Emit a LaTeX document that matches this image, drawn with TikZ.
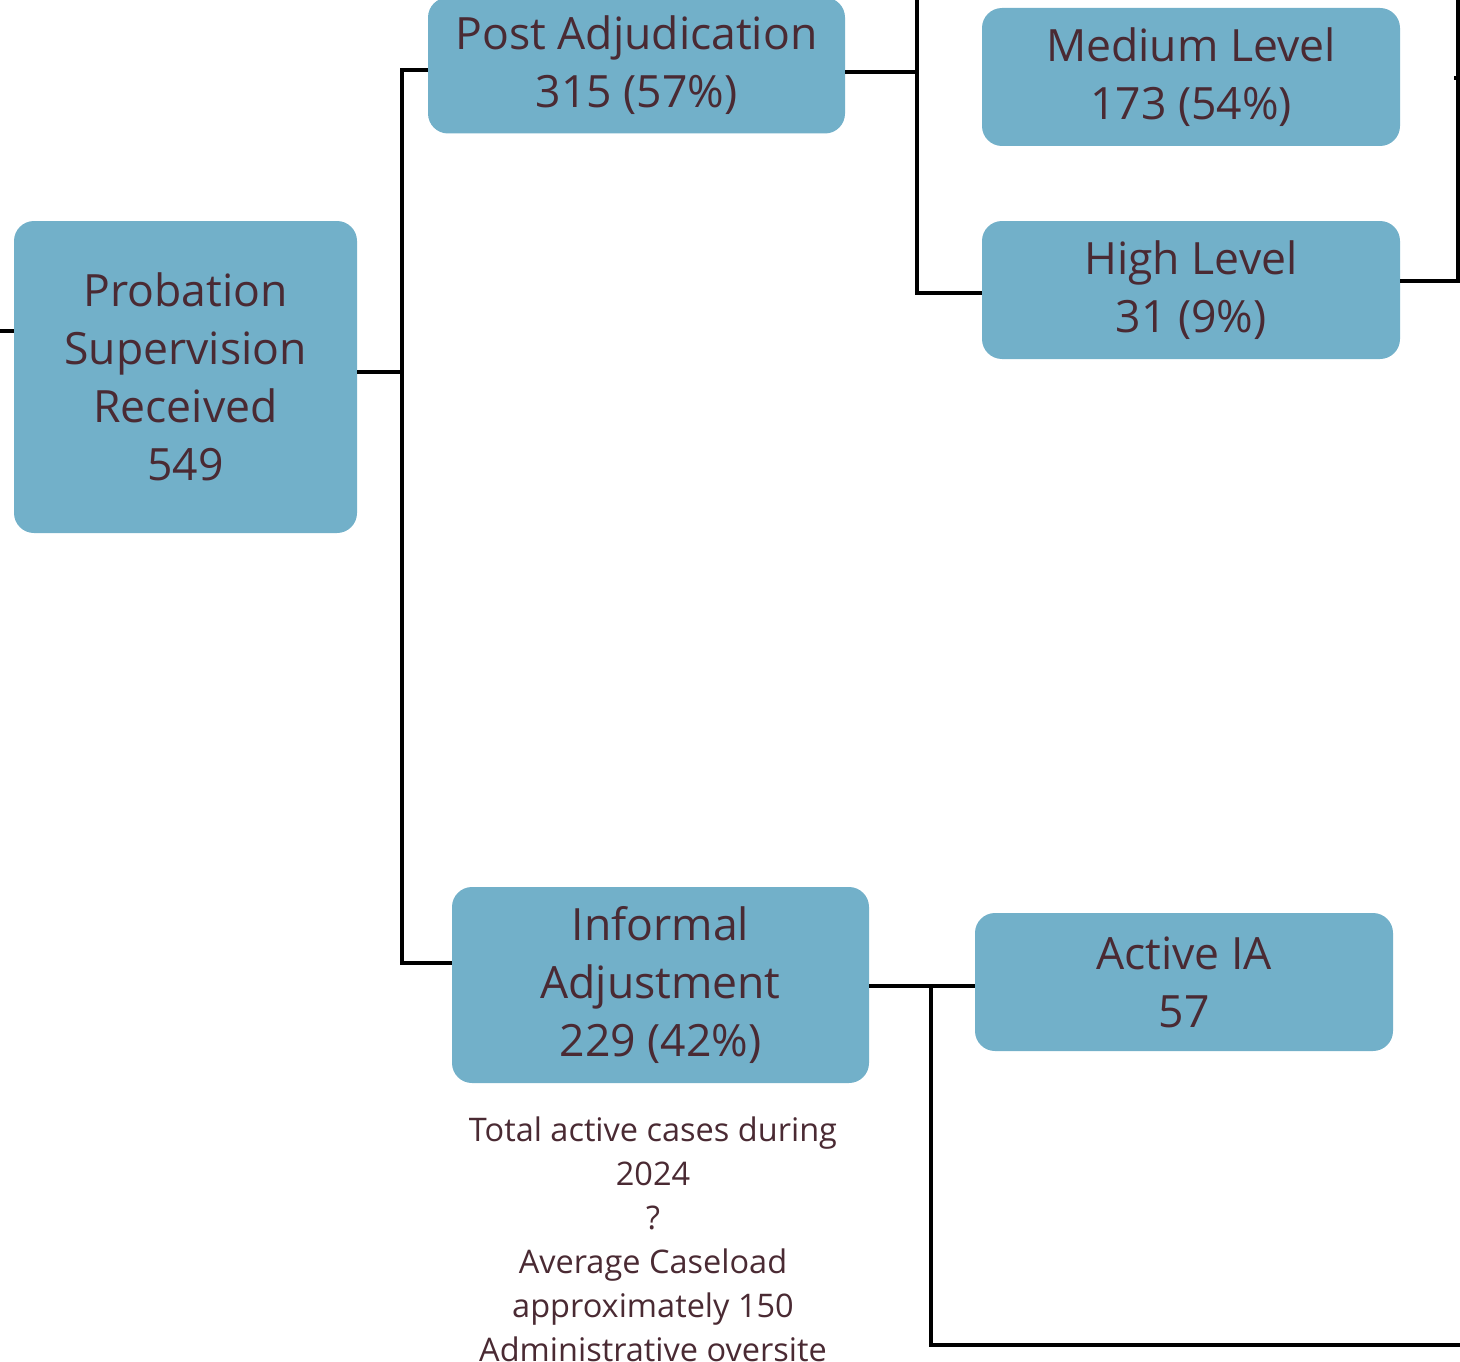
\documentclass[tikz,border=0pt]{standalone}
\usepackage{fontspec}
\setmainfont{Open Sans}
\definecolor{boxblue}{HTML}{72B0C9}
\definecolor{ink}{HTML}{4A2A33}
\begin{document}
\begin{tikzpicture}[x=1pt,y=-1pt,
  box/.style={rounded corners=20pt, fill=boxblue, text=ink, align=center,
    inner sep=0pt, font=\fontsize{44.5}{58}\selectfont},
  link/.style={line width=4pt, black},
  note/.style={text=ink, align=center, inner sep=0pt,
    font=\fontsize{32.5}{44}\selectfont}]
\useasboundingbox (0,0) rectangle (1460,1362);

% boxes
\node (root) [box, minimum width=343pt, minimum height=312pt] at (185.5,377)
  {Probation\\Supervision\\Received\\549};
\node (post) [box, minimum width=417pt, minimum height=136pt] at (636.5,65.5)
  {Post Adjudication\\315 (57\%)};
\node (medium) [box, minimum width=418pt, minimum height=138pt] at (1191,77)
  {Medium Level\\173 (54\%)};
\node (high) [box, minimum width=418pt, minimum height=138pt] at (1191,290)
  {High Level\\31 (9\%)};
\node (informal) [box, minimum width=417pt, minimum height=196pt] at (660.5,985)
  {Informal\\Adjustment\\229 (42\%)};
\node (active) [box, minimum width=418pt, minimum height=138pt] at (1184,982)
  {Active IA\\57};
\node (notes) [note] at (653,1239)
  {Total active cases during\\2024\\?\\Average Caseload\\approximately 150\\Administrative oversite};

% junction points and free ends
\coordinate (lin) at (0,331);
\coordinate (rj) at (402,372);
\coordinate (pj) at (917,0);
\coordinate (hj) at (1458,0);
\coordinate (tick) at (1454,78);
\coordinate (ij) at (931,986);
\coordinate (aj) at (1460,1345);

% connectors
\draw[link] (lin) -- (lin -| root.west);
\draw[link] ([yshift=5pt]root.east) -- (rj);
\draw[link] ([yshift=-4.5pt]post.west) -| (rj) |- ([yshift=22pt]informal.west);
\draw[link] ([yshift=-6.5pt]post.east) -- ([yshift=-6.5pt]post.east -| pj);
\draw[link] (pj) |- ([yshift=-3pt]high.west);
\draw[link] ([yshift=9pt]high.east) -| (hj);
\draw[link] (tick) -- (tick -| hj);
\draw[link] ([yshift=-1pt]informal.east) -- ([yshift=-4pt]active.west);
\draw[link] (ij) |- (aj);
\end{tikzpicture}
\end{document}
